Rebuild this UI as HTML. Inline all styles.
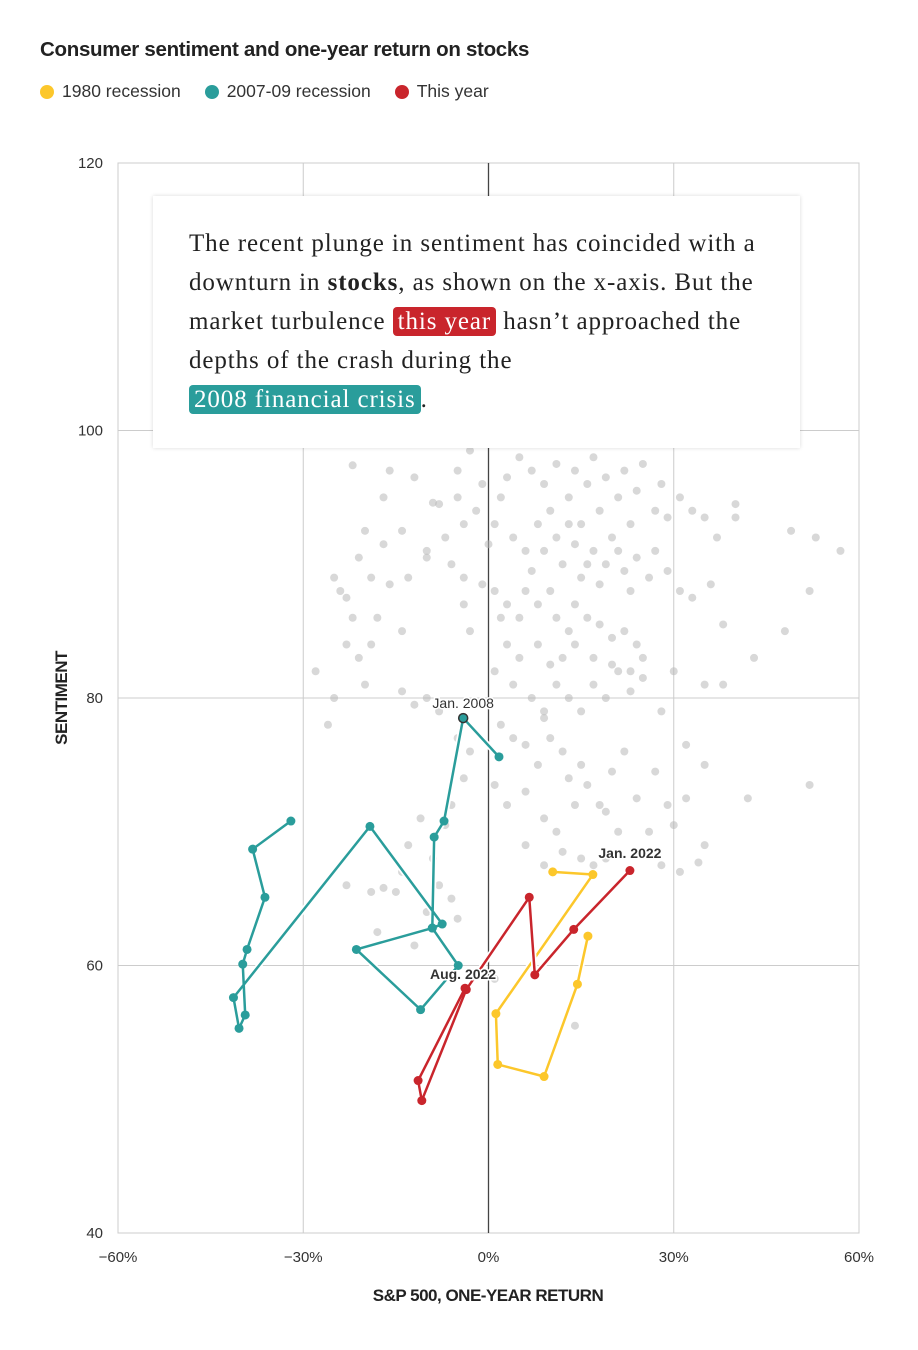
<!DOCTYPE html>
<html><head><meta charset="utf-8">
<style>
body{margin:0;background:#fff;width:918px;height:1350px;overflow:hidden;font-family:"Liberation Sans",sans-serif;position:relative}
#title{position:absolute;left:40px;top:38px;font-size:20.5px;font-weight:bold;color:#222;letter-spacing:-0.3px}
#legend{position:absolute;left:40px;top:81px;font-size:17.5px;color:#333;display:flex;gap:24px}
.li{display:flex;align-items:center;gap:8px}
.dot{width:14px;height:14px;border-radius:50%;display:inline-block}
#note{position:absolute;left:153px;top:196px;width:647px;height:252px;background:#fff;box-shadow:0 0 4px rgba(0,0,0,0.15);box-sizing:border-box;padding:28px 36px;font-family:"Liberation Serif",serif;font-size:25px;letter-spacing:0.9px;line-height:39px;color:#222;white-space:nowrap}
.hl{color:#fff;padding:1px 5px;border-radius:4px}
</style></head><body>
<div id="title">Consumer sentiment and one-year return on stocks</div>
<div id="legend">
<span class="li"><span class="dot" style="background:#fcc72b"></span>1980 recession</span>
<span class="li"><span class="dot" style="background:#2a9d9b"></span>2007-09 recession</span>
<span class="li"><span class="dot" style="background:#c9252c"></span>This year</span>
</div>
<svg id="chart" width="918" height="1350" style="position:absolute;left:0;top:0"></svg>
<div id="note">The recent plunge in sentiment has coincided with a<br>downturn in <b>stocks</b>, as shown on the x-axis. But the<br>market turbulence <span class="hl" style="background:#c9252c">this year</span> hasn’t approached the<br>depths of the crash during the<br><span class="hl" style="background:#2a9d9b">2008 financial crisis</span>.</div>
<script>
const xTicks=[-60,-30,0,30,60];
const xTickLabels=["−60%","−30%","0%","30%","60%"];
const yTicks=[120,100,80,60,40];
const grayX=[-22,-16,-12,-9,-8,-5,-3,-5,-1,-2,-4,-7,-10,-14,-17,-20,-21,-19,-16,-23,-22,-24,-13,-10,-6,-4,0,1,2,3,5,7,8,9,10,11,12,13,14,15,16,17,18,19,20,21,22,23,24,25,27,28,29,31,33,35,37,40,40,49,53,57,4,6,8,9,11,12,13,14,15,16,17,18,19,21,22,23,24,26,27,29,31,33,36,1,2,3,5,6,7,8,10,11,13,14,16,18,20,22,24,25,23,20,17,14,12,10,8,5,3,1,4,7,9,11,13,15,17,19,21,23,25,28,30,35,38,43,48,52,38,-28,-26,-25,-20,-21,-19,-18,-23,-17,-14,-25,-3,-4,-1,2,4,6,8,9,10,12,13,15,16,18,20,22,24,27,29,32,32,35,42,52,26,30,35,28,31,34,21,19,14,11,9,6,3,1,6,9,12,15,17,19,-6,-7,-9,-11,-13,-15,-17,-19,-23,-8,-6,-5,-10,-14,-18,-12,1,14,-3,-5,-8,-10,-12,-14,-4];
const grayY=[97.4,97,96.5,94.6,94.5,97,98.5,95,96,94,93,92,91,92.5,91.5,92.5,90.5,89,88.5,87.5,86,88,89,90.5,90,89,91.5,93,95,96.5,98,97,99,96,94,97.5,99,95,97,93,96,98,94,96.5,92,95,97,93,95.5,97.5,94,96,93.5,95,94,93.5,92,94.5,93.5,92.5,92,91,92,91,93,91,92,90,93,91.5,89,90,91,88.5,90,91,89.5,88,90.5,89,91,89.5,88,87.5,88.5,88,86,87,86,88,89.5,87,88,86,85,87,86,85.5,84.5,85,84,83,82,82.5,83,84,83,82.5,84,83,84,82,81,80,79,81,80,79,81,80,82,80.5,81.5,79,82,81,81,83,85,88,85.5,82,78,80,81,83,84,86,84,95,85,89,85,87,88.5,78,77,76.5,75,78.5,77,76,74,75,73.5,72,74.5,76,72.5,74.5,72,72.5,76.5,75,72.5,73.5,70,70.5,69,67.5,67,67.7,70,71.5,72,70,71,73,72,73.5,69,67.5,68.5,68,67.5,68,72,70.5,68,71,69,65.5,65.8,65.5,66,66,65,63.5,64,67,62.5,61.5,59,55.5,76,77,79,80,79.5,80.5,74];
const y1980X=[10.4,16.9,1.2,1.5,9.0,14.4,16.1];
const y1980Y=[67.0,66.8,56.4,52.6,51.7,58.6,62.2];
const gfcX=[1.7,-4.1,-7.2,-8.8,-9.1,-4.9,-11.0,-21.4,-9.1,-7.5,-19.2,-41.3,-40.4,-39.4,-39.8,-39.1,-36.2,-38.2,-32.0];
const gfcY=[75.6,78.5,70.8,69.6,62.8,60.0,56.7,61.2,62.8,63.1,70.4,57.6,55.3,56.3,60.1,61.2,65.1,68.7,70.8];
const thisX=[22.9,13.8,7.5,6.6,-3.6,-10.8,-11.4,-3.8];
const thisY=[67.1,62.7,59.3,65.1,58.2,49.9,51.4,58.3];
const NS="http://www.w3.org/2000/svg";
const svg=document.getElementById('chart');
const sx=v=>118+(v+60)/120*741;
const sy=v=>163+(120-v)/80*1070;
function mk(t,a,p){const e=document.createElementNS(NS,t);for(const k in a)e.setAttribute(k,a[k]);(p||svg).appendChild(e);return e;}
let e;
e=mk('rect',{x:sx(-60),y:sy(120),width:sx(60)-sx(-60),height:sy(40)-sy(120),fill:'none',stroke:'#ccc','stroke-width':1});


xTicks.forEach((t,i)=>{
 if(t!==0&&Math.abs(t)!==60){e=mk('line',{x1:sx(t),x2:sx(t),y1:sy(120),y2:sy(40),stroke:'#ccc'});
 
 }
 e=mk('text',{x:sx(t),y:1262,'text-anchor':'middle','font-size':15,fill:'#333','font-family':'Liberation Sans, sans-serif'});e.textContent=xTickLabels[i];
 
 
});
yTicks.forEach(t=>{
 if(t!==120&&t!==40){e=mk('line',{x1:sx(-60),x2:sx(60),y1:sy(t),y2:sy(t),stroke:'#ccc'});
 
 }
 e=mk('text',{x:103,y:sy(t)+5,'text-anchor':'end','font-size':15,fill:'#333','font-family':'Liberation Sans, sans-serif'});e.textContent=t;
 
 
});
e=mk('line',{x1:sx(0),x2:sx(0),y1:sy(120),y2:sy(40),stroke:'#444','stroke-width':1.3});


const gg=mk('g',{});


grayX.forEach((x,i)=>{e=mk('circle',{cx:sx(x),cy:sy(grayY[i]),r:4,fill:'#b8b8b8','fill-opacity':0.55},gg);
 
 });
function series(X,Y,col,name){
 const g=mk('g',{});
 
 
 const pts=X.map((x,i)=>sx(x)+','+sy(Y[i])).join(' ');
 mk('polyline',{points:pts,fill:'none',stroke:'#fff','stroke-width':6,'stroke-linejoin':'round'},g);
 e=mk('polyline',{points:pts,fill:'none',stroke:col,'stroke-width':2.5,'stroke-linejoin':'round'},g);
 
 
 X.forEach((x,i)=>{e=mk('circle',{cx:sx(x),cy:sy(Y[i]),r:4.5,fill:col},g);
  
  });
}
series(y1980X,y1980Y,'#fcc72b','series-1980');
series(gfcX,gfcY,'#2a9d9b','series-2007-09');
series(thisX,thisY,'#c9252c','series-this-year');
e=mk('circle',{cx:sx(gfcX[1]),cy:sy(gfcY[1]),r:4.5,fill:'#2a9d9b',stroke:'#333','stroke-width':1.5});


function lab(x,y,t,w,n){e=mk('text',{x:x,y:y,'text-anchor':'middle','font-size':14,'font-weight':w,fill:'#333',stroke:'#fff','stroke-width':3,'paint-order':'stroke','font-family':'Liberation Sans, sans-serif'});e.textContent=t;
 
 }
lab(sx(gfcX[1]),708,'Jan. 2008','normal','label-jan-2008');
lab(sx(thisX[0]),858,'Jan. 2022','bold','label-jan-2022');
lab(sx(thisX[7])-2,979,'Aug. 2022','bold','label-aug-2022');
e=mk('text',{x:488,y:1301,'text-anchor':'middle','font-size':17,'font-weight':'bold',fill:'#222','letter-spacing':'-0.5','font-family':'Liberation Sans, sans-serif'});e.textContent='S&P 500, ONE-YEAR RETURN';


e=mk('text',{x:0,y:0,transform:'translate(67,698) rotate(-90)','text-anchor':'middle','font-size':17,'font-weight':'bold',fill:'#222','letter-spacing':'-0.5','font-family':'Liberation Sans, sans-serif'});e.textContent='SENTIMENT';


</script>
</body></html>
